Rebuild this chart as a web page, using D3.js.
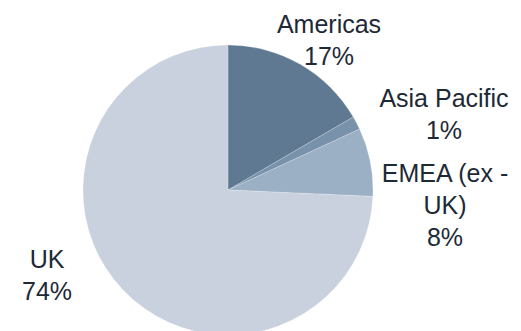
<!DOCTYPE html>
<html>
<head>
<meta charset="utf-8">
<script src="https://cdn.jsdelivr.net/npm/d3@7"></script>
<style>
  body { margin: 0; background: #fff; }
  svg { display: block; }
</style>
</head>
<body>
<div id="chart"></div>
<script>
// region shares (percent)
const regions = ["Americas", "Asia Pacific", "EMEA (ex - UK)", "UK"];
const shares = [16.6, 1.5, 7.6, 74.3];
const shareLabels = ["17%", "1%", "8%", "74%"];
const labelLines = [["Americas"], ["Asia Pacific"], ["EMEA (ex -", "UK)"], ["UK"]];

const width = 521, height = 331;
const cx = 228, cy = 190, radius = 145;

// label anchor offsets from pie centre (best-fit placement)
const labelOffsets = [[101, -157], [216, -83], [217, -8], [-181, 78]];
const lineHeight = 32;

const color = d3.scaleOrdinal()
    .domain(regions)
    .range(["#5e7991", "#7892ab", "#9bb0c5", "#c8d1dd"]);

let svg = d3.select("#chart").append("svg")
    .attr("width", width)
    .attr("height", height);

let pie = d3.pie().sort(null).value(d => d.value);
let arcs = pie(regions.map((r, i) => ({ name: r, value: shares[i], label: shareLabels[i], lines: labelLines[i] })));

let arc = d3.arc().innerRadius(0).outerRadius(radius);

let g = svg.append("g").attr("transform", `translate(${cx},${cy})`);

g.selectAll("path")
    .data(arcs)
    .join("path")
    .attr("d", arc)
    .attr("fill", d => color(d.data.name))
    .attr("stroke", "#ffffff")
    .attr("stroke-width", 0.4)
    .attr("stroke-opacity", 0.5);

let labels = g.selectAll("text")
    .data(arcs)
    .join("text")
    .attr("text-anchor", "middle")
    .style("font-family", "'Liberation Sans', Arial, sans-serif")
    .style("font-size", "25px")
    .attr("fill", "#1e2936")
    .attr("transform", (d, i) => `translate(${labelOffsets[i][0]},${labelOffsets[i][1]})`);

labels.each(function (d) {
    let t = d3.select(this);
    d.data.lines.concat([d.data.label]).forEach((line, j) => {
        t.append("tspan")
            .attr("x", 0)
            .attr("y", j * lineHeight)
            .text(line);
    });
});
</script>
</body>
</html>
